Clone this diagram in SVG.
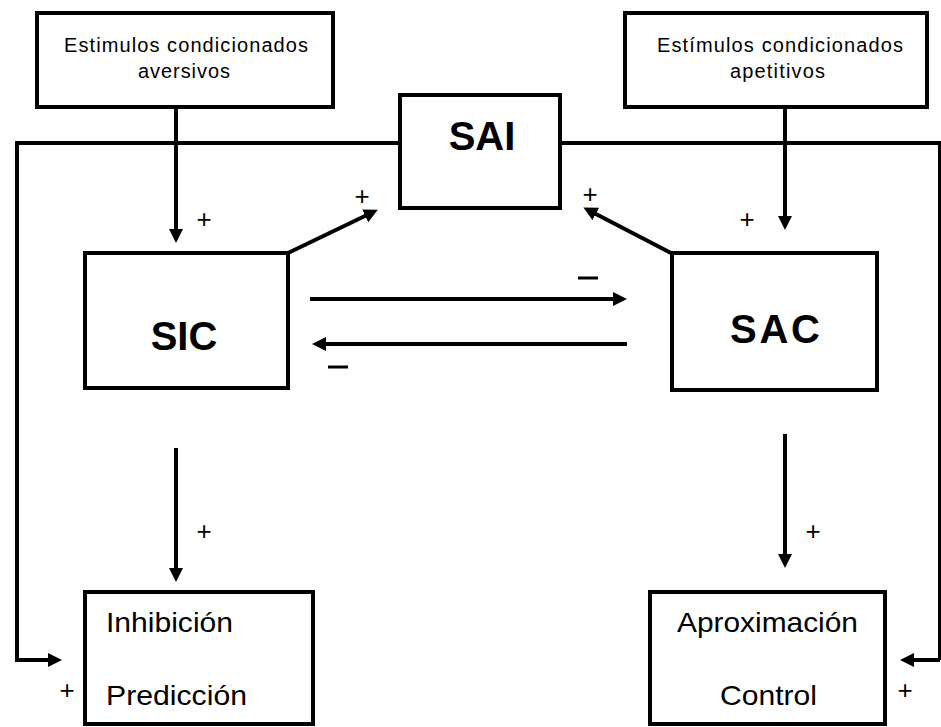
<svg xmlns="http://www.w3.org/2000/svg" width="941" height="727" viewBox="0 0 941 727">
<style>
.box{fill:#fff;stroke:#000;stroke-width:4}
.ln{fill:none;stroke:#000;stroke-width:4}
.arr{fill:none;stroke:#000;stroke-width:4;marker-end:url(#ah)}
.small{font-family:"Liberation Sans",Arial,sans-serif;font-size:20px;fill:#000}
.big{font-family:"Liberation Sans",Arial,sans-serif;font-size:40px;font-weight:bold;fill:#000}
.mid{font-family:"Liberation Sans",Arial,sans-serif;font-size:28px;fill:#000}
.sign{font-family:"Liberation Sans",Arial,sans-serif;font-size:26px;fill:#000}
.minus{stroke:#000;stroke-width:3}
</style>
<defs>
<marker id="ah" markerUnits="userSpaceOnUse" markerWidth="16" markerHeight="16" refX="2" refY="7" orient="auto">
<path d="M0,0 L14,7 L0,14 Z" fill="#000"/>
</marker>
</defs>
<rect width="941" height="727" fill="#fff"/>
<g id="connectors">
<path class="ln" d="M400,143 H17 V660 H50"/>
<path class="arr" d="M17,660 H50"/>
<path class="ln" d="M560,143 H940 V660"/>
<path class="arr" d="M940,660 H912"/>
<path class="arr" d="M176,107 V231"/>
<path class="arr" d="M785,107 V218"/>
<path class="arr" d="M288,253 L367,215"/>
<path class="arr" d="M671,253 L594,213"/>
<path class="arr" d="M310,299 H615"/>
<path class="arr" d="M627,344 H324"/>
<path class="arr" d="M176,448 V570"/>
<path class="arr" d="M785,434 V556"/>
</g>
<g id="labels">
<text class="sign" x="204" y="228" text-anchor="middle">+</text>
<text class="sign" x="362" y="205" text-anchor="middle">+</text>
<text class="sign" x="590" y="203" text-anchor="middle">+</text>
<text class="sign" x="747" y="228" text-anchor="middle">+</text>
<text class="sign" x="204" y="540" text-anchor="middle">+</text>
<text class="sign" x="67" y="699" text-anchor="middle">+</text>
<text class="sign" x="813" y="540" text-anchor="middle">+</text>
<text class="sign" x="905" y="699" text-anchor="middle">+</text>
<line class="minus" x1="578" y1="278" x2="598" y2="278"/>
<line class="minus" x1="328" y1="367" x2="348" y2="367"/>
</g>
<g id="aversivos">
<rect class="box" x="37" y="13" width="296" height="94"/>
<text class="small" x="64" y="52" textLength="244" lengthAdjust="spacing">Estimulos condicionados</text>
<text class="small" x="138" y="78" textLength="92" lengthAdjust="spacing">aversivos</text>
</g>
<g id="apetitivos">
<rect class="box" x="625" y="13" width="302" height="94"/>
<text class="small" x="657" y="52" textLength="246" lengthAdjust="spacing">Estímulos condicionados</text>
<text class="small" x="730" y="78" textLength="95" lengthAdjust="spacing">apetitivos</text>
</g>
<g id="SAI">
<rect class="box" x="400" y="95" width="160" height="113"/>
<text class="big" x="482" y="150" text-anchor="middle">SAI</text>
</g>
<g id="SIC">
<rect class="box" x="85" y="253" width="203" height="135"/>
<text class="big" x="184" y="350" text-anchor="middle" font-size="38">SIC</text>
</g>
<g id="SAC">
<rect class="box" x="672" y="253" width="205" height="137"/>
<text class="big" x="730" y="343" textLength="90" lengthAdjust="spacing" font-size="38">SAC</text>
</g>
<g id="inhibicion">
<rect class="box" x="85" y="592" width="228" height="132"/>
<text class="mid" x="106" y="632" textLength="127" lengthAdjust="spacingAndGlyphs">Inhibición</text>
<text class="mid" x="106" y="705" textLength="141" lengthAdjust="spacingAndGlyphs">Predicción</text>
</g>
<g id="aproximacion">
<rect class="box" x="650" y="592" width="235" height="132"/>
<text class="mid" x="677" y="632" textLength="181" lengthAdjust="spacingAndGlyphs">Aproximación</text>
<text class="mid" x="720" y="705" textLength="97" lengthAdjust="spacingAndGlyphs">Control</text>
</g>
</svg>
